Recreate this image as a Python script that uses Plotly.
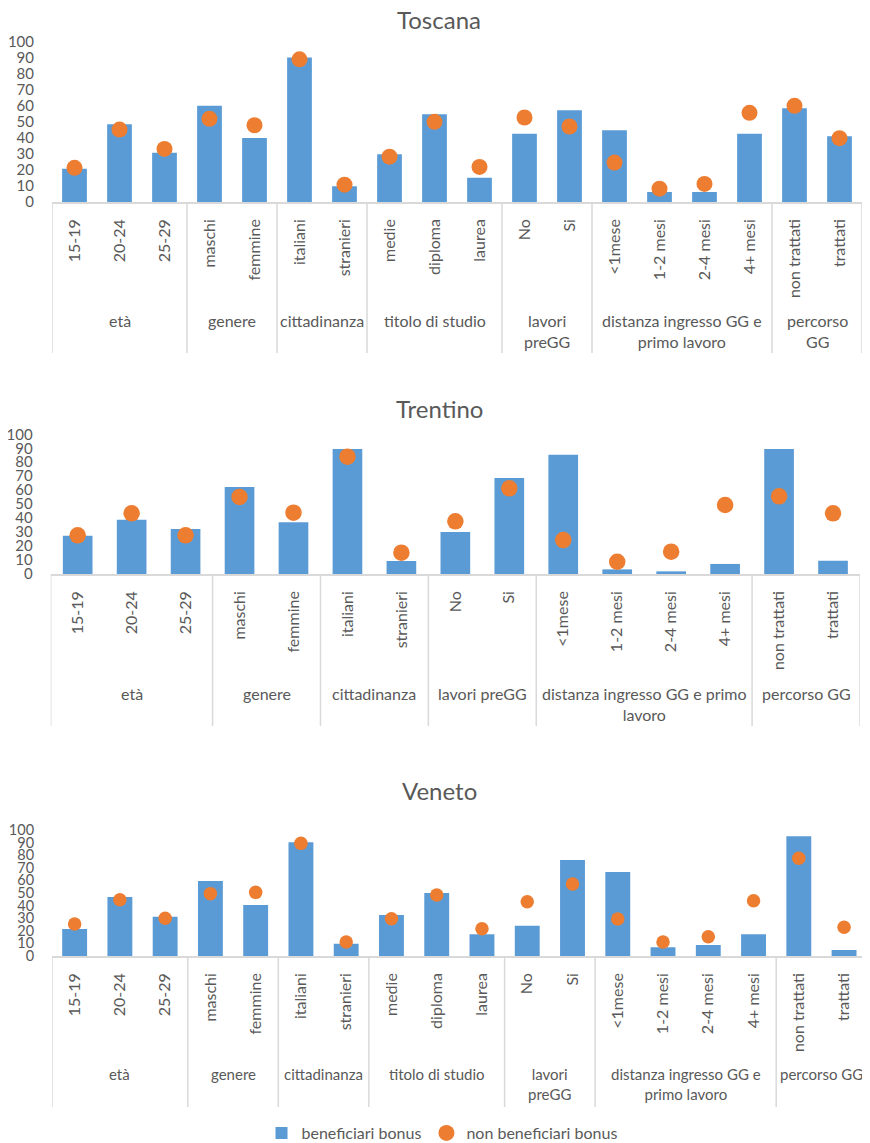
import plotly.graph_objects as go

W, H = 870, 1143
OFF = 8  # default page body margin of the html page
FONT = "Lato"
GRAY = "#595959"
BLUE = "#5B9BD5"
ORANGE = "#ED7D31"
LINE = "#D9D9D9"

# ---------------- data ----------------
tos_labels = ["15-19", "20-24", "25-29", "maschi", "femmine", "italiani", "stranieri",
              "medie", "diploma", "laurea", "No", "Si", "<1mese", "1-2 mesi", "2-4 mesi",
              "4+ mesi", "non trattati", "trattati"]
tos_groups = ["età", "genere", "cittadinanza", "titolo di studio", "lavori<br>preGG",
              "distanza ingresso GG e<br>primo lavoro", "percorso<br>GG"]
tos_group_sizes = [3, 2, 2, 3, 2, 4, 2]
tos_bonus = [20.8, 48.5, 30.8, 60, 40, 90.2, 9.8, 29.8, 54.8, 15.2, 42.5, 57.3, 44.8,
             6.3, 6.3, 42.5, 58.5, 41]
tos_non = [21.3, 45.2, 33.1, 51.9, 47.9, 89, 10.8, 28.3, 50, 21.9, 52.7, 47.1, 24.6,
           8.3, 11.3, 55.6, 60, 39.8]

tre_labels = ["15-19", "20-24", "25-29", "maschi", "femmine", "italiani", "stranieri",
              "No", "Si", "<1mese", "1-2 mesi", "2-4 mesi", "4+ mesi", "non trattati", "trattati"]
tre_groups = ["età", "genere", "cittadinanza", "lavori preGG",
              "distanza ingresso GG e primo<br>lavoro", "percorso GG"]
tre_group_sizes = [3, 2, 2, 2, 4, 2]
tre_bonus = [27.4, 38.9, 32.2, 62.3, 37, 89.5, 9.3, 30, 68.7, 85.4, 3.3, 1.9, 7.2, 89.5, 9.5]
tre_non = [27.7, 43.4, 27.7, 55.1, 43.9, 84, 15.3, 37.7, 61.3, 24.3, 8.8, 16, 49.4, 55.6, 43.4]

ven_labels = ["15-19", "20-24", "25-29", "maschi", "femmine", "italiani", "stranieri",
              "medie", "diploma", "laurea", "No", "Si", "<1mese", "1-2 mesi", "2-4 mesi",
              "4+ mesi", "non trattati", "trattati"]
ven_groups = ["età", "genere", "cittadinanza", "titolo di studio", "lavori<br>preGG",
              "distanza ingresso GG e<br>primo lavoro", "percorso GG"]
ven_group_sizes = [3, 2, 2, 3, 2, 4, 2]
ven_bonus = [21.4, 46.8, 31.2, 59.5, 40.5, 90.2, 9.8, 32.5, 50, 17.2, 24.1, 76.2, 66.7,
             6.9, 8.7, 17.2, 95, 4.8]
ven_non = [25.4, 44.7, 29.9, 49.5, 50.5, 89.4, 11.1, 29.6, 48.4, 21.7, 43.1, 57.1, 29.4,
           11.1, 15.3, 43.9, 77.5, 22.8]

y_ticks = [0, 10, 20, 30, 40, 50, 60, 70, 80, 90, 100]

series_names = ["beneficiari bonus", "non beneficiari bonus"]

# ---------------- layout spec (window pixels) ----------------
panels = [
    dict(title="Toscana", labels=tos_labels, groups=tos_groups, sizes=tos_group_sizes,
         bonus=tos_bonus, non=tos_non, x0=52, x1=862, top=41.7, bottom=202,
         div_bottom=353, group_y=320, title_y=19, dot=16, yfont=15, gfont=16),
    dict(title="Trentino", labels=tre_labels, groups=tre_groups, sizes=tre_group_sizes,
         bonus=tre_bonus, non=tre_non, x0=50.7, x1=860, top=434.3, bottom=574,
         div_bottom=726, group_y=692.7, title_y=409, dot=16.5, yfont=15, gfont=16),
    dict(title="Veneto", labels=ven_labels, groups=ven_groups, sizes=ven_group_sizes,
         bonus=ven_bonus, non=ven_non, x0=52, x1=866.7, top=830, bottom=956,
         div_bottom=1107, group_y=1074, title_y=790, dot=13.5, yfont=14.5, gfont=15),
]


def px_x(x):
    return (x - OFF) / W


def px_y(y):
    return 1 - (y - OFF) / H


fig = go.Figure()
annotations = []
shapes = []
layout = {}

for i, p in enumerate(panels):
    n = i + 1
    xa = "x" if n == 1 else f"x{n}"
    ya = "y" if n == 1 else f"y{n}"
    xkey = "xaxis" if n == 1 else f"xaxis{n}"
    ykey = "yaxis" if n == 1 else f"yaxis{n}"
    idx = list(range(len(p["labels"])))

    fig.add_trace(go.Bar(x=idx, y=p["bonus"], name=series_names[0], marker_color=BLUE,
                         xaxis=xa, yaxis=ya, showlegend=(n == 1), legendgroup="b",
                         marker_line_width=0))
    fig.add_trace(go.Scatter(x=idx, y=p["non"], name=series_names[1], mode="markers",
                             marker=dict(color=ORANGE, size=p["dot"]),
                             xaxis=xa, yaxis=ya, showlegend=(n == 1), legendgroup="n"))

    layout[xkey] = dict(
        domain=[px_x(p["x0"]), px_x(p["x1"])], anchor=ya, automargin=False,
        range=[-0.5, len(idx) - 0.5], tickmode="array", tickvals=idx,
        ticktext=p["labels"], tickangle=-90, showgrid=False, zeroline=False,
        showline=True, linecolor=LINE, linewidth=1.5,
        ticks="outside", ticklen=9, tickcolor="rgba(0,0,0,0)",
        tickfont=dict(family=FONT, size=16, color=GRAY), fixedrange=True,
    )
    layout[ykey] = dict(
        domain=[px_y(p["bottom"]), px_y(p["top"])], anchor=xa, automargin=False,
        range=[0, 100], tickmode="array", tickvals=y_ticks, showgrid=False,
        zeroline=False, showline=False, ticks="outside", ticklen=14,
        tickcolor="rgba(0,0,0,0)",
        tickfont=dict(family=FONT, size=p["yfont"], color=GRAY), fixedrange=True,
    )

    # title
    annotations.append(dict(text=p["title"], xref="paper", yref="paper",
                            x=px_x(439), y=px_y(p["title_y"]), xanchor="center",
                            yanchor="middle", showarrow=False,
                            font=dict(family=FONT, size=24, color=GRAY)))

    # group dividers and labels
    start = 0
    bounds = [-0.5]
    for g, s in zip(p["groups"], p["sizes"]):
        center = start + (s - 1) / 2
        annotations.append(dict(text=g, xref=xa, yref="paper", x=center,
                                y=px_y(p["group_y"] - 11), xanchor="center",
                                yanchor="top", showarrow=False,
                                font=dict(family=FONT, size=p["gfont"], color=GRAY)))
        start += s
        bounds.append(start - 0.5)
    for b in bounds:
        shapes.append(dict(type="line", xref=xa, yref="paper", x0=b, x1=b,
                           y0=px_y(p["bottom"]), y1=px_y(p["div_bottom"]),
                           line=dict(color=LINE, width=1.5)))

fig.update_layout(
    width=W, height=H, margin=dict(l=0, r=0, t=0, b=0, autoexpand=False),
    paper_bgcolor="white", plot_bgcolor="white",
    bargap=0.45, annotations=annotations, shapes=shapes,
    font=dict(family=FONT, color=GRAY),
    legend=dict(orientation="h", x=px_x(442), xanchor="center", y=px_y(1133),
                yanchor="middle", font=dict(family=FONT, size=16, color=GRAY),
                itemwidth=30, bgcolor="rgba(0,0,0,0)"),
    **layout,
)

fig.write_html("out.html")
